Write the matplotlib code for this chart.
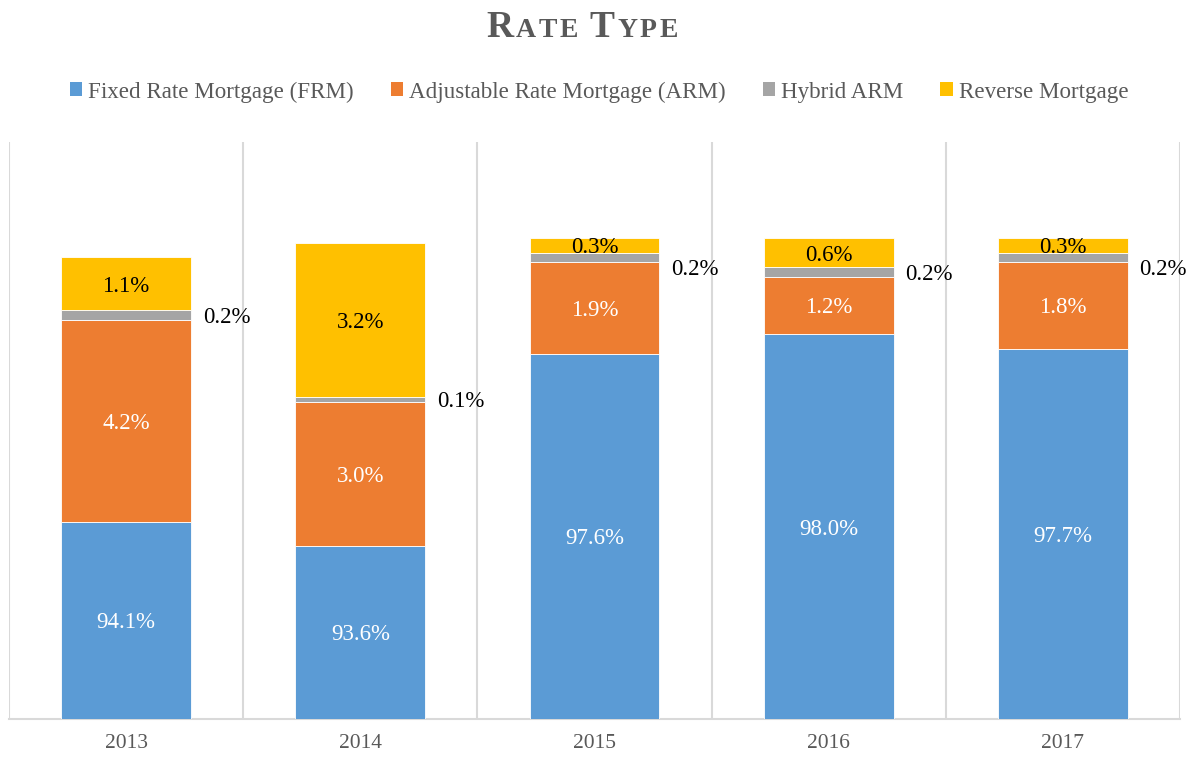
import matplotlib
matplotlib.use("Agg")
import matplotlib.pyplot as plt
from matplotlib.patches import Patch
import numpy as np

years = ["2013", "2014", "2015", "2016", "2017"]
frm = [94.1, 93.6, 97.6, 98.0, 97.7]
arm = [4.2, 3.0, 1.9, 1.2, 1.8]
hybrid = [0.2, 0.1, 0.2, 0.2, 0.2]
reverse = [1.1, 3.2, 0.3, 0.6, 0.3]
series_names = ["Fixed Rate Mortgage (FRM)", "Adjustable Rate Mortgage (ARM)",
                "Hybrid ARM", "Reverse Mortgage"]
colors = ["#5B9BD5", "#ED7D31", "#A5A5A5", "#FFC000"]
title = "Rate Type"

plt.rcParams['font.family'] = ['Liberation Serif', 'DejaVu Serif']

W, H = 1199, 759
fig = plt.figure(figsize=(W / 100, H / 100), dpi=100)
ax = fig.add_axes([9 / W, 1 - 719 / H, (1180 - 9) / W, (719 - 142) / H])

ymin, ymax = 90, 102
x = np.arange(len(years))
width = 0.555
bottom = np.full(len(years), float(ymin))
series = [frm, arm, hybrid, reverse]
bars = []
for vals, c in zip(series, colors):
    vals = np.array(vals)
    heights = np.where(bottom == ymin, vals - ymin, vals)
    ax.bar(x, heights, width, bottom=bottom, color=c, edgecolor="white",
           linewidth=0.6, zorder=3)
    bars.append((vals, bottom.copy(), heights))
    bottom = bottom + heights

LFS = 16.5
for si, (vals, bot, hts) in enumerate(bars):
    for i in range(len(years)):
        yc = bot[i] + hts[i] / 2
        txt = f"{vals[i]:.1f}%"
        if si in (0, 1):
            ax.text(x[i], yc, txt, ha="center", va="center_baseline", color="white",
                    fontsize=LFS, zorder=5)
        elif si == 3:
            ax.text(x[i], yc, txt, ha="center", va="center_baseline", color="black",
                    fontsize=LFS, zorder=5)
        else:
            dy = -0.2 if reverse[i] < 0.5 else 0.0
            ax.text(x[i] + width / 2 + 0.05, yc + dy, txt, ha="left",
                    va="center_baseline", color="black", fontsize=LFS, zorder=5)

ax.set_ylim(ymin, ymax)
ax.set_xlim(-0.5, len(years) - 0.5)
ax.set_yticks([])
ax.set_xticks(x)
ax.set_xticklabels(years, fontsize=15.5, color="#595959")
ax.tick_params(axis="x", length=0, pad=11)
ax.set_xticks(np.arange(-0.5, len(years)), minor=True)
ax.tick_params(axis="x", which="minor", length=0)
ax.grid(True, which="minor", axis="x", color="#D9D9D9", linewidth=1.5, zorder=0)
for s in ["top", "right", "left"]:
    ax.spines[s].set_visible(False)
ax.spines["bottom"].set_color("#D9D9D9")
ax.spines["bottom"].set_linewidth(1.5)

handles = [Patch(facecolor=c, edgecolor="none") for c in colors]
fig.legend(handles, series_names, loc="center", bbox_to_anchor=(599 / W, 1 - 92 / H),
           ncol=4, frameon=False, fontsize=16.6, handlelength=0.55, handleheight=0.55,
           handletextpad=0.25, columnspacing=1.6, labelcolor="#595959")

# title in small caps, letter by letter with letter spacing
renderer = fig.canvas.get_renderer()
texts = []
prev_space = True
for ch in title:
    if ch == " ":
        t = fig.text(0, 1 - 37 / H, "\u00a0", fontsize=20, fontweight="bold",
                     color="#595959", ha="left", va="baseline")
    elif ch.isupper():
        t = fig.text(0, 1 - 37 / H, ch, fontsize=27, fontweight="bold",
                     color="#595959", ha="left", va="baseline")
    else:
        t = fig.text(0, 1 - 37 / H, ch.upper(), fontsize=20, fontweight="bold",
                     color="#595959", ha="left", va="baseline")
    texts.append(t)
fig.canvas.draw()
widths = [t.get_window_extent(renderer).width for t in texts]
spacing = 2.5
total = sum(widths) + spacing * (len(widths) - 1)
cx = 582
cur = cx - total / 2
for t, w in zip(texts, widths):
    t.set_x(cur / W)
    cur += w + spacing

fig.savefig("out.png", dpi=100)
